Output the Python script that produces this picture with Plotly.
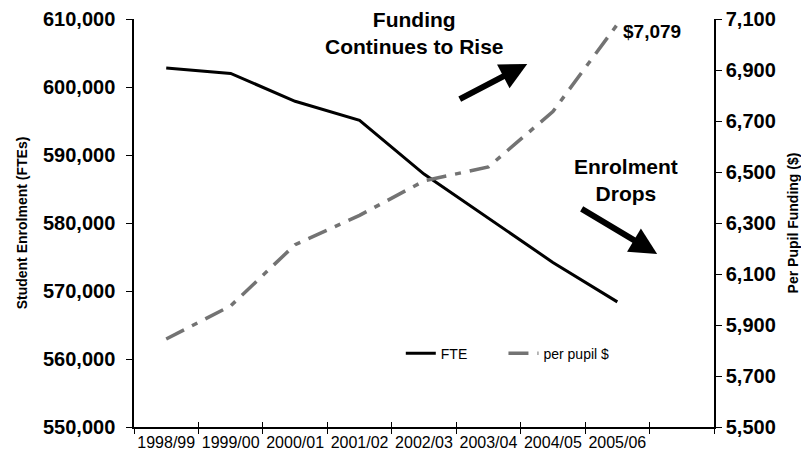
import plotly.graph_objects as go

# school years (last slot on the axis is left empty, as in the original)
years = ['1998/99', '1999/00', '2000/01', '2001/02', '2002/03',
         '2003/04', '2004/05', '2005/06']
axis_slots = years + [' ']

# student enrolment, full-time equivalents
fte = [602800, 602000, 597900, 595100, 587200, 580700, 574200, 568400]

# per pupil funding ($)
per_pupil = [5845, 5975, 6215, 6330, 6465, 6520, 6737, 7079]

left_ticks = [550000, 560000, 570000, 580000, 590000, 600000, 610000]
right_ticks = [5500, 5700, 5900, 6100, 6300, 6500, 6700, 6900, 7100]

FONT = 'Liberation Sans, Arial'
big_font = dict(family=FONT, size=21, color='black', weight='bold')

fig = go.Figure()
fig.add_trace(go.Scatter(x=years, y=fte, name='FTE', mode='lines',
                         legend='legend',
                         line=dict(color='black', width=3)))
fig.add_trace(go.Scatter(x=years, y=per_pupil, name='per pupil $',
                         mode='lines', yaxis='y2', legend='legend2',
                         line=dict(color='#737373', width=3.5,
                                   dash='20px,9px,6px,9px')))
# dummy trace so the second x axis (inner tick marks) is drawn
fig.add_trace(go.Scatter(x=[axis_slots[-1]], y=[None], xaxis='x2',
                         showlegend=False, hoverinfo='skip'))

legend_style = dict(orientation='h', y=0.18, xanchor='left',
                    yanchor='middle', bgcolor='rgba(0,0,0,0)',
                    font=dict(size=14))

# page body has an 8px margin, so the figure is 8px smaller each way
fig.update_layout(
    width=801, height=452,
    margin=dict(l=126, r=95, t=11, b=33),
    plot_bgcolor='white', paper_bgcolor='white',
    font=dict(family=FONT, color='black'),
    showlegend=True,
    legend=dict(x=0.46, **legend_style),
    legend2=dict(x=0.637, **legend_style),
    xaxis=dict(type='category', categoryorder='array',
               categoryarray=axis_slots, range=[-0.5, 8.5],
               tickson='boundaries', ticks='outside', ticklen=5,
               tickcolor='black', showline=True, linecolor='black',
               linewidth=1.5, showgrid=False, zeroline=False,
               tickangle=0, automargin=False, tickfont=dict(size=16)),
    xaxis2=dict(type='category', categoryorder='array',
                categoryarray=axis_slots, range=[-0.5, 8.5],
                overlaying='x', tickson='boundaries', ticks='inside',
                ticklen=5, tickcolor='black', showticklabels=False,
                showgrid=False, zeroline=False, automargin=False),
    yaxis=dict(range=[550000, 610000], tickvals=left_ticks,
               tickformat=',d', ticks='outside', ticklen=6,
               tickcolor='black', showline=True, linecolor='black',
               linewidth=1.5, showgrid=False, zeroline=False,
               automargin=False, ticklabelstandoff=7,
               ticklabeloverflow='allow',
               tickfont=dict(size=20, weight='bold'),
               title=dict(text='Student Enrolment (FTEs)',
                          font=dict(size=14, weight='bold'), standoff=12)),
    yaxis2=dict(range=[5500, 7100], tickvals=right_ticks, tickformat=',d',
                overlaying='y', side='right', ticks='outside', ticklen=6,
                tickcolor='black', showline=True, linecolor='black',
                linewidth=1.5, showgrid=False, zeroline=False,
                automargin=False, ticklabeloverflow='allow',
                tickfont=dict(size=20, weight='bold'),
                title=dict(text='Per Pupil Funding ($)',
                           font=dict(size=14, weight='bold'), standoff=13)),
)

# last funding value label
fig.add_annotation(x=years[-1], y=per_pupil[-1], xref='x', yref='y2',
                   text='$7,079', showarrow=False, xanchor='left',
                   xshift=4, yshift=-7,
                   font=dict(size=19, weight='bold'))

# callouts
fig.add_annotation(x=0.484, y=0.965, xref='paper', yref='paper',
                   xanchor='center', yanchor='middle',
                   text='Funding<br>Continues to Rise',
                   showarrow=False, font=big_font)
fig.add_annotation(x=0.678, y=0.890, xref='paper', yref='paper', text='',
                   ax=-69, ay=36, showarrow=True, arrowhead=2,
                   arrowsize=0.9, arrowwidth=6, arrowcolor='black')
fig.add_annotation(x=0.848, y=0.605, xref='paper', yref='paper',
                   xanchor='center', yanchor='middle',
                   text='Enrolment<br>Drops',
                   showarrow=False, font=big_font)
fig.add_annotation(x=0.902, y=0.424, xref='paper', yref='paper', text='',
                   ax=-77, ay=-46, showarrow=True, arrowhead=2,
                   arrowsize=0.9, arrowwidth=6, arrowcolor='black')

fig.write_html('out.html')
